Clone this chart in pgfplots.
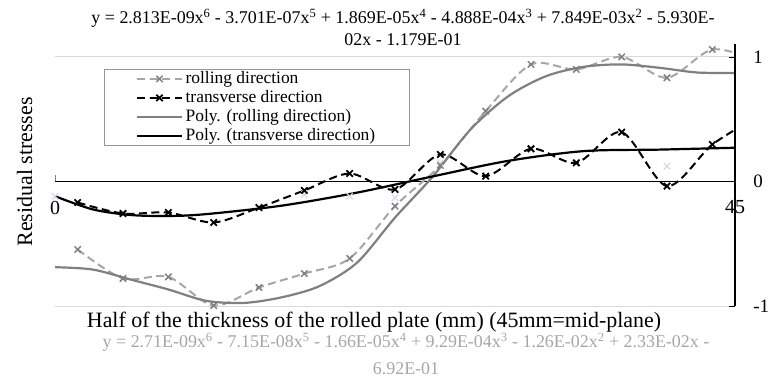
\documentclass[border=0pt]{standalone}
\usepackage{fontspec}
\setmainfont{Liberation Serif}
\usepackage{pgfplots}
\pgfplotsset{compat=1.18}

\definecolor{rollline}{RGB}{166,166,166}
\definecolor{rollmark}{RGB}{128,128,128}
\definecolor{rollpoly}{RGB}{128,128,128}
\definecolor{gridc}{RGB}{217,217,217}
\definecolor{lav}{RGB}{218,214,238}
\definecolor{eqgray}{RGB}{166,166,166}
\definecolor{legbox}{RGB}{150,150,150}

\begin{document}
\begin{tikzpicture}
\path[use as bounding box] (0,0) rectangle (769bp,379bp);
\begin{axis}[
  at={(55bp,60.5bp)}, anchor=south west,
  width=680bp, height=274bp, scale only axis,
  xmin=0, xmax=45, ymin=-1.1, ymax=1.1,
  axis x line=middle, axis y line=right,
  axis line style={draw=none},
  hide obscured x ticks=false, hide obscured y ticks=false,
  xtick={0,45}, ytick={-1,0,1},
  tick style={draw=none},
  /pgf/number format/assume math mode=true,
  xticklabel style={font=\fontsize{20}{24}\selectfont, anchor=north, inner sep=0pt, yshift=-17bp},
  yticklabel style={font=\fontsize{19}{23}\selectfont, anchor=west, inner sep=0pt, xshift=16bp},
  legend style={at={(axis description cs:0.0721,0.9106)}, anchor=north west,
    draw=legbox, line width=0.8bp, inner xsep=31.5bp, inner ysep=0pt,
    font=\fontsize{17.5}{19}\selectfont,
    nodes={inner xsep=2.5bp, inner ysep=1.25bp, text height=12.5bp, text depth=4bp}},
  legend cell align=left,
  legend image code/.code={\draw[mark repeat=2,mark phase=2,#1] plot coordinates {(0bp,0bp) (22.5bp,0bp) (45bp,0bp)};},
  after end axis/.code={
    \draw[black, line width=1.2bp] (axis cs:45,-1) -- (axis cs:45,1.1);
    \draw[black, line width=0.8bp] (axis cs:45,1) -- ++(-6bp,0);
    \draw[black, line width=0.8bp] (axis cs:45,-1) -- ++(-6bp,0);
    \draw[gray, line width=0.8bp] (axis cs:0,0) -- ++(0,6bp);
  },
]
\draw[gridc, line width=1bp] (axis cs:0,1) -- (axis cs:45,1);
\draw[gridc, line width=1bp] (axis cs:0,-1) -- (axis cs:45,-1);
\draw[black, line width=1bp] (axis cs:0,0) -- (axis cs:45,0);

\addplot[only marks, mark=x, mark size=4.5bp, lav, line width=1.2bp, forget plot] coordinates {
(0,-0.118) (16.5,-0.105) (19.5,-0.118) (22.5,-0.13) (25.5,0.15) (40.5,0.123)};

\addplot[rollline, line width=2bp, dash pattern=on 8bp off 4.5bp, smooth,
  mark=x, mark size=4.5bp, mark options={solid, draw=rollmark, line width=1.5bp}] coordinates {
(1.5,-0.546) (4.5,-0.779) (7.5,-0.766) (10.5,-0.996) (13.5,-0.851) (16.5,-0.739)
(19.5,-0.618) (22.5,-0.198) (25.5,0.129) (28.5,0.565) (31.5,0.94) (34.5,0.90)
(37.5,1.0) (40.5,0.833) (43.5,1.06) (46.5,0.97)};
\addlegendentry{rolling direction}

\addplot[black, line width=2bp, dash pattern=on 8bp off 4.5bp, smooth,
  mark=x, mark size=4.5bp, mark options={solid, line width=1.8bp}] coordinates {
(1.5,-0.169) (4.5,-0.257) (7.5,-0.249) (10.5,-0.329) (13.5,-0.209) (16.5,-0.072)
(19.5,0.064) (22.5,-0.064) (25.5,0.217) (28.5,0.043) (31.5,0.263) (34.5,0.15)
(37.5,0.396) (40.5,-0.037) (43.5,0.297) (46.5,0.52)};
\addlegendentry{transverse direction}

\addplot[rollpoly, line width=2.2bp, smooth] coordinates {
(0,-0.688) (2.5,-0.707) (5,-0.787) (7.5,-0.867) (10,-0.958) (12.5,-0.975)
(15,-0.93) (17.5,-0.84) (20,-0.65) (22.5,-0.29) (25,0.04) (27.5,0.418)
(30,0.685) (32.5,0.846) (35,0.921) (37.5,0.94) (40,0.913) (42.5,0.875) (45,0.872)};
\addlegendentry{Poly. (rolling direction)}

\addplot[black, line width=2.2bp, smooth] coordinates {
(0,-0.118) (2.5,-0.224) (5,-0.269) (7.5,-0.277) (10,-0.262) (15,-0.194)
(20,-0.089) (25,0.041) (30,0.166) (35,0.244) (40,0.256) (45,0.271)};
\addlegendentry{Poly. (transverse direction)}
\end{axis}

\node[anchor=base, font=\fontsize{18}{22}\selectfont] at (403bp,355.5bp)
 {y = 2.813E-09x\textsuperscript{6} - 3.701E-07x\textsuperscript{5} + 1.869E-05x\textsuperscript{4} - 4.888E-04x\textsuperscript{3} + 7.849E-03x\textsuperscript{2} - 5.930E-};
\node[anchor=base, font=\fontsize{18}{22}\selectfont] at (403bp,333.5bp) {02x - 1.179E-01};

\node[anchor=base, font=\fontsize{22}{26}\selectfont] at (374bp,51.5bp)
 {Half of the thickness of the rolled plate (mm) (45mm=mid-plane)};
\node[anchor=base, rotate=90, font=\fontsize{22}{26}\selectfont] at (32bp,207bp) {Residual stresses};

\node[anchor=base, text=eqgray, font=\fontsize{18}{22}\selectfont] at (406bp,31.5bp)
 {y = 2.71E-09x\textsuperscript{6} - 7.15E-08x\textsuperscript{5} - 1.66E-05x\textsuperscript{4} + 9.29E-04x\textsuperscript{3} - 1.26E-02x\textsuperscript{2} + 2.33E-02x -};
\node[anchor=base, text=eqgray, font=\fontsize{18}{22}\selectfont] at (406bp,5bp) {6.92E-01};
\end{tikzpicture}
\end{document}
